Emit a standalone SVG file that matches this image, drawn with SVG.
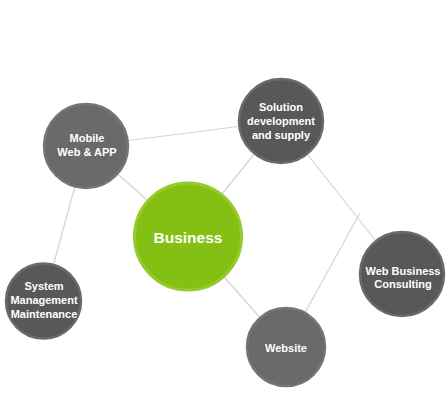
<svg xmlns="http://www.w3.org/2000/svg" width="448" height="420" viewBox="0 0 448 420">
<style>
.edge{stroke:#d4d4d4;stroke-width:1.2;fill:none}
.dark{fill:#585858;stroke:#6a6a6a;stroke-width:2.5}
.mid{fill:#6a6a6a;stroke:#757575;stroke-width:2.5}
.green{fill:#84bf14;stroke:#96cb2c;stroke-width:3}
text{font-family:"Liberation Sans",Arial,sans-serif;font-weight:bold;fill:#ffffff;text-anchor:middle;font-size:11px}
.big{font-size:15.5px}
</style>
<rect width="448" height="420" fill="#ffffff"/>
<g id="connectors">
<line class="edge" x1="86" y1="146" x2="281" y2="121"/>
<line class="edge" x1="86" y1="146" x2="188" y2="236"/>
<line class="edge" x1="281" y1="121" x2="188" y2="236"/>
<line class="edge" x1="86" y1="146" x2="43.5" y2="301"/>
<line class="edge" x1="281" y1="121" x2="402" y2="274"/>
<line class="edge" x1="286" y1="347" x2="360" y2="213"/>
<line class="edge" x1="188" y1="236" x2="286" y2="347"/>
</g>
<g id="mobile">
<circle class="mid" cx="86" cy="146" r="42"/>
<text x="87" y="142">Mobile</text>
<text x="87" y="156">Web &amp; APP</text>
</g>
<g id="solution">
<circle class="dark" cx="281" cy="121" r="42"/>
<text x="281" y="111">Solution</text>
<text x="281" y="125">development</text>
<text x="281" y="139">and supply</text>
</g>
<g id="business">
<circle class="green" cx="188" cy="236.5" r="53.5"/>
<text class="big" x="188" y="242.5">Business</text>
</g>
<g id="system">
<circle class="dark" cx="43.5" cy="301" r="37.5"/>
<text x="44" y="290">System</text>
<text x="44" y="304">Management</text>
<text x="44" y="318">Maintenance</text>
</g>
<g id="website">
<circle class="mid" cx="286" cy="347" r="39"/>
<text x="286" y="352">Website</text>
</g>
<g id="consulting">
<circle class="dark" cx="402" cy="274" r="42"/>
<text x="403" y="275">Web Business</text>
<text x="403" y="288">Consulting</text>
</g>
</svg>
